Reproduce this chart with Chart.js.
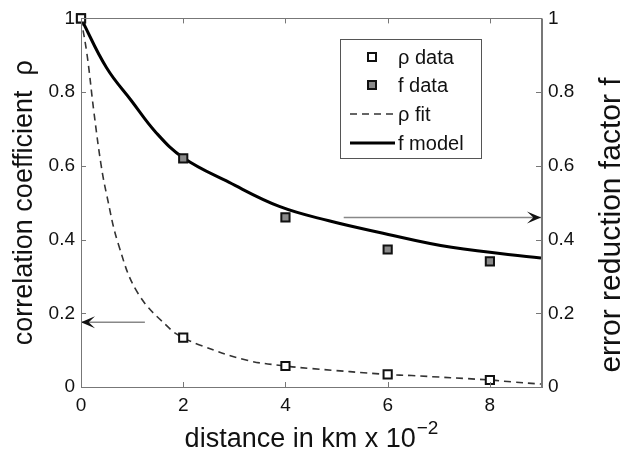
<!DOCTYPE html>
<html>
<head>
<meta charset="utf-8">
<script src="https://cdn.jsdelivr.net/npm/chart.js@4"></script>
<style>
  html, body { margin: 0; padding: 0; background: #fff; }
  #wrap { width: 630px; height: 450px; }
</style>
</head>
<body>
<div id="wrap"><canvas id="myChart" width="630" height="450"></canvas></div>
<script>
// Data
const distance = [0, 2, 4, 6, 8];
const rhoData = [1, 0.134, 0.057, 0.034, 0.019];
const fData = [1, 0.62, 0.46, 0.373, 0.341];

// dashed rho fit, sampled along the drawn curve
const rhoFitX = [0, 0.12, 0.25, 0.39, 0.5, 0.73, 1.12, 1.77, 2, 2.32, 3.23, 4, 4.52, 6, 6.47, 8, 8.42, 9];
const rhoFit = [1, 0.9, 0.749, 0.605, 0.523, 0.388, 0.253, 0.154, 0.134, 0.114, 0.073, 0.057, 0.05, 0.034, 0.031, 0.019, 0.014, 0.008];

// solid f model
const fModelX = [0, 0.5, 0.99, 1.47, 2, 2.9, 3.88, 4.85, 5.82, 7.25, 9];
const fModel = [1, 0.866, 0.776, 0.69, 0.622, 0.555, 0.49, 0.451, 0.42, 0.379, 0.35];

// the two annotation arrows (start -> tip)
const arrowLeftX = [1.25, 0];
const arrowLeftY = [0.176, 0.176];
const arrowRightX = [5.14, 9];
const arrowRightY = [0.46, 0.46];

const xTicks = [0, 2, 4, 6, 8];
const yTicks = [0, 0.2, 0.4, 0.6, 0.8, 1];

const legendLabels = ["\u03c1 data", "f data", "\u03c1 fit", "f model"];
const xTitle = "distance in km x 10";
const xTitleExp = "\u22122";
const rightTitle = "error reduction factor f";

const FONT = "'Liberation Sans', Arial, Helvetica, sans-serif";
const AXIS = "#777";

function toPoints(xs, ys) {
    return xs.map((x, i) => ({ x: x, y: ys[i] }));
}

// inward ticks + box frame like the original plot
const framePlugin = {
    id: "frame",
    afterDraw(chart) {
        const ctx = chart.ctx;
        const a = chart.chartArea;
        const sx = chart.scales.x, sy = chart.scales.y, sy1 = chart.scales.y1;
        ctx.save();
        ctx.strokeStyle = AXIS;
        ctx.lineWidth = 1;
        ctx.beginPath();
        xTicks.forEach(v => {
            const px = Math.round(sx.getPixelForValue(v)) + 0.5;
            ctx.moveTo(px, a.bottom); ctx.lineTo(px, a.bottom - 5);
            ctx.moveTo(px, a.top); ctx.lineTo(px, a.top + 5);
        });
        yTicks.forEach(v => {
            const py = Math.round(sy.getPixelForValue(v)) + 0.5;
            ctx.moveTo(a.left, py); ctx.lineTo(a.left + 5, py);
            const py1 = Math.round(sy1.getPixelForValue(v)) + 0.5;
            ctx.moveTo(a.right, py1); ctx.lineTo(a.right - 5, py1);
        });
        ctx.stroke();
        ctx.strokeRect(Math.round(a.left) + 0.5, Math.round(a.top) + 0.5,
            Math.round(a.right - a.left), Math.round(a.bottom - a.top));
        ctx.lineWidth = 2;
        ctx.beginPath();
        ctx.moveTo(Math.round(a.right) + 1, a.top);
        ctx.lineTo(Math.round(a.right) + 1, a.bottom + 1);
        ctx.stroke();
        ctx.restore();
    }
};

// arrowheads at the last point of datasets flagged with arrow: true
const arrowPlugin = {
    id: "arrows",
    afterDatasetsDraw(chart) {
        const ctx = chart.ctx;
        chart.data.datasets.forEach((ds, i) => {
            if (!ds.arrow) return;
            const pts = chart.getDatasetMeta(i).data;
            const p0 = pts[pts.length - 2], p1 = pts[pts.length - 1];
            const dx = p1.x - p0.x, dy = p1.y - p0.y;
            const len = Math.hypot(dx, dy);
            const ux = dx / len, uy = dy / len;
            const nx = -uy, ny = ux;
            const L = 14, W = 6;
            ctx.save();
            ctx.fillStyle = "#111";
            ctx.beginPath();
            ctx.moveTo(p1.x, p1.y);
            ctx.lineTo(p1.x - ux * L + nx * W, p1.y - uy * L + ny * W);
            ctx.lineTo(p1.x - ux * L * 0.55, p1.y - uy * L * 0.55);
            ctx.lineTo(p1.x - ux * L - nx * W, p1.y - uy * L - ny * W);
            ctx.closePath();
            ctx.fill();
            ctx.restore();
        });
    }
};

// x title with a real superscript, right title reading bottom-to-top
const titlesPlugin = {
    id: "titles",
    afterDraw(chart) {
        const ctx = chart.ctx;
        const a = chart.chartArea;
        ctx.save();
        ctx.fillStyle = "#111";
        ctx.textBaseline = "alphabetic";
        ctx.font = "27px " + FONT;
        const w1 = ctx.measureText(xTitle).width;
        ctx.font = "19px " + FONT;
        const w2 = ctx.measureText(xTitleExp).width;
        const x0 = (a.left + a.right) / 2 - (w1 + w2) / 2;
        ctx.font = "27px " + FONT;
        ctx.textAlign = "left";
        ctx.fillText(xTitle, x0, 447);
        ctx.font = "19px " + FONT;
        ctx.fillText(xTitleExp, x0 + w1 + 1, 434);

        ctx.translate(620, 225);
        ctx.rotate(-Math.PI / 2);
        ctx.textAlign = "center";
        ctx.font = "30px " + FONT;
        ctx.fillText(rightTitle, 0, 0);
        ctx.restore();
    }
};

// boxed legend inside the plot, top right
const legendPlugin = {
    id: "boxLegend",
    afterDraw(chart) {
        const ctx = chart.ctx;
        const bx = 340, by = 39, bw = 141, bh = 119;
        ctx.save();
        ctx.fillStyle = "#fff";
        ctx.fillRect(bx, by, bw, bh);
        ctx.strokeStyle = "#555";
        ctx.lineWidth = 1;
        ctx.strokeRect(bx + 0.5, by + 0.5, bw, bh);
        const rows = [57, 85, 114, 143];
        const ds = chart.data.datasets;
        ctx.font = "20px " + FONT;
        ctx.textBaseline = "middle";
        legendLabels.forEach((t, i) => {
            const y = rows[i];
            const d = ds[i];
            if (i < 2) {
                ctx.fillStyle = d.backgroundColor;
                ctx.strokeStyle = d.borderColor;
                ctx.lineWidth = 2;
                ctx.fillRect(368, y - 4, 8, 8);
                ctx.strokeRect(368, y - 4, 8, 8);
            } else {
                ctx.strokeStyle = d.borderColor;
                ctx.lineWidth = d.borderWidth;
                ctx.setLineDash(d.borderDash || []);
                ctx.beginPath();
                ctx.moveTo(350, y); ctx.lineTo(395, y);
                ctx.stroke();
                ctx.setLineDash([]);
            }
            ctx.fillStyle = "#111";
            ctx.fillText(t, 398, y + 1);
        });
        ctx.restore();
    }
};

const tickFont = { family: FONT, size: 19 };
const tickLabel = v => String(v);

const ctx = document.getElementById("myChart").getContext("2d");
const myChart = new Chart(ctx, {
    type: "scatter",
    data: {
        datasets: [
            {
                label: legendLabels[0],
                data: toPoints(distance, rhoData),
                yAxisID: "y",
                pointStyle: "rect",
                pointRadius: 5.8,
                backgroundColor: "#ffffff",
                borderColor: "#111",
                borderWidth: 2,
                clip: false
            },
            {
                label: legendLabels[1],
                data: toPoints(distance, fData),
                yAxisID: "y1",
                pointStyle: "rect",
                pointRadius: 5.8,
                backgroundColor: "#8a8a8a",
                borderColor: "#111",
                borderWidth: 2,
                clip: false
            },
            {
                label: legendLabels[2],
                data: toPoints(rhoFitX, rhoFit),
                yAxisID: "y",
                showLine: true,
                pointRadius: 0,
                borderColor: "#333",
                borderWidth: 1.6,
                borderDash: [7, 5],
                tension: 0.4
            },
            {
                label: legendLabels[3],
                data: toPoints(fModelX, fModel),
                yAxisID: "y1",
                showLine: true,
                pointRadius: 0,
                borderColor: "#000",
                borderWidth: 3,
                tension: 0.4
            },
            {
                label: "arrow rho",
                data: toPoints(arrowLeftX, arrowLeftY),
                yAxisID: "y",
                showLine: true,
                pointRadius: 0,
                borderColor: "#888",
                borderWidth: 1.5,
                arrow: true,
                clip: false
            },
            {
                label: "arrow f",
                data: toPoints(arrowRightX, arrowRightY),
                yAxisID: "y1",
                showLine: true,
                pointRadius: 0,
                borderColor: "#888",
                borderWidth: 1.5,
                arrow: true,
                clip: false
            }
        ]
    },
    options: {
        responsive: false,
        animation: false,
        layout: { padding: { top: 17, left: 0, right: 0, bottom: 0 } },
        plugins: {
            legend: { display: false },
            tooltip: { enabled: false }
        },
        scales: {
            x: {
                type: "linear",
                min: 0,
                max: 9,
                afterBuildTicks: s => { s.ticks = xTicks.map(v => ({ value: v })); },
                afterFit: s => { s.height = 63; },
                grid: { display: false, drawTicks: false },
                border: { display: false },
                ticks: { padding: 7, color: "#111", font: tickFont, callback: tickLabel }
            },
            y: {
                type: "linear",
                position: "left",
                min: 0,
                max: 1,
                afterBuildTicks: s => { s.ticks = yTicks.map(v => ({ value: v })); },
                afterFit: s => { s.width = 81; },
                grid: { display: false, drawTicks: false },
                border: { display: false },
                ticks: { padding: 6, color: "#111", font: tickFont, callback: tickLabel },
                title: {
                    display: true,
                    text: "correlation coefficient  \u03c1",
                    color: "#111",
                    padding: { top: 11, bottom: 0 },
                    font: { family: FONT, size: 27, lineHeight: 1 }
                }
            },
            y1: {
                type: "linear",
                position: "right",
                min: 0,
                max: 1,
                afterBuildTicks: s => { s.ticks = yTicks.map(v => ({ value: v })); },
                afterFit: s => { s.width = 89; },
                grid: { display: false, drawTicks: false },
                border: { display: false },
                ticks: { padding: 7, color: "#111", font: tickFont, callback: tickLabel }
            }
        }
    },
    plugins: [framePlugin, arrowPlugin, titlesPlugin, legendPlugin]
});
</script>
</body>
</html>
